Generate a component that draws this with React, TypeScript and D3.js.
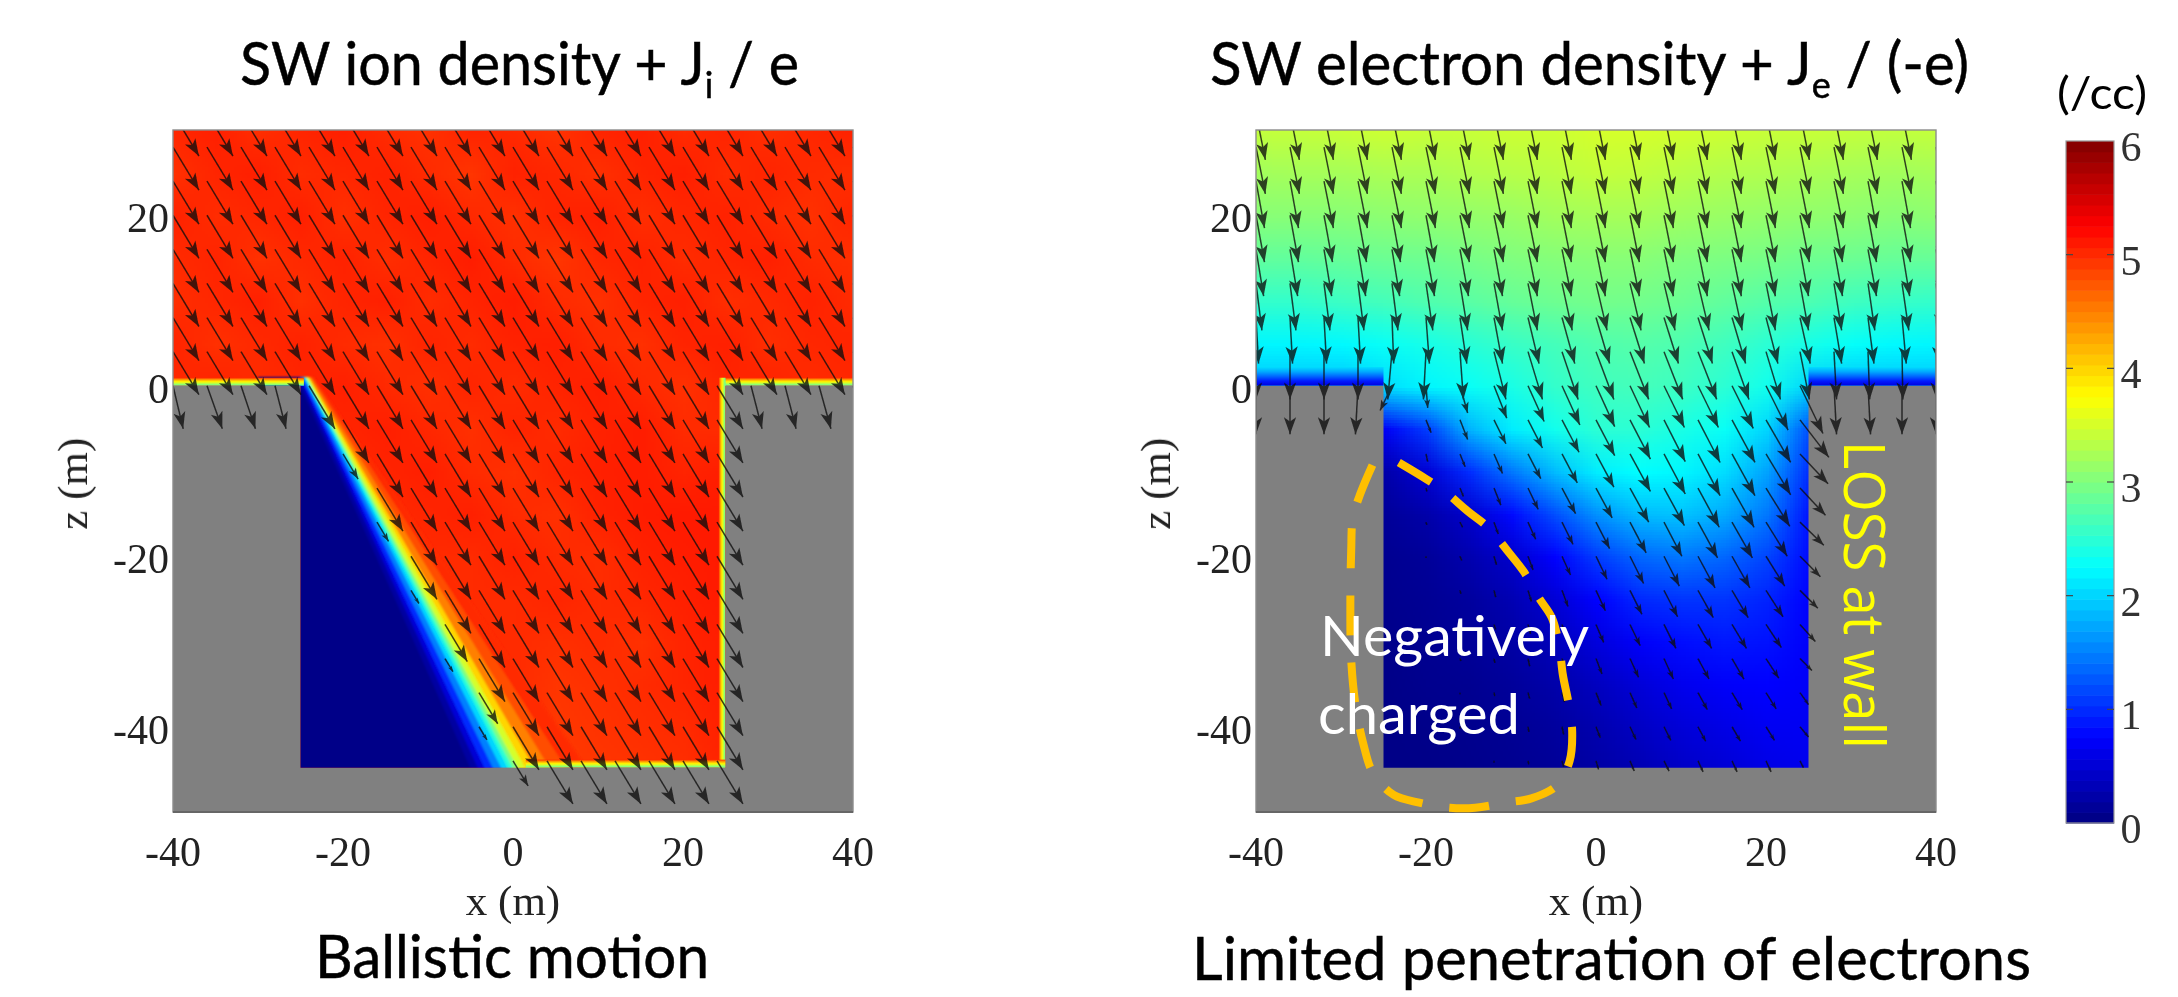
import React, { useMemo } from "react";
import * as d3 from "d3";

const xTicks = [-40, -20, 0, 20, 40];
const zTicks = [20, 0, -20, -40];
const barTicks = [0, 1, 2, 3, 4, 5, 6];

const gridXCount = 17;
const gridZ = [30, 25, 20, 15, 10, 5, 0, -5, -10, -15, -20, -25, -30, -35, -40, -45];

const ionGrid = [
  [5.02, 5.06, 4.98, 5.03, 5.07, 5.0, 4.96, 5.04, 5.01, 4.95, 5.03, 5.06, 5.0, 5.04, 4.98, 5.02, 5.05],
  [4.97, 5.03, 5.07, 4.99, 5.02, 5.05, 5.0, 4.94, 5.05, 5.02, 4.97, 5.03, 5.07, 4.99, 5.04, 5.0, 4.98],
  [5.05, 4.99, 5.02, 5.06, 4.97, 5.03, 5.07, 5.01, 4.96, 5.04, 5.06, 4.98, 5.02, 5.05, 5.0, 4.96, 5.03],
  [5.0, 5.04, 4.96, 5.01, 5.05, 4.98, 5.03, 5.08, 5.0, 4.93, 5.02, 5.05, 4.99, 5.03, 5.06, 5.0, 4.97],
  [4.98, 5.02, 5.06, 4.97, 5.03, 5.06, 4.99, 5.04, 5.08, 5.0, 4.96, 5.03, 5.06, 4.98, 5.01, 5.05, 5.0],
  [5.04, 4.97, 5.01, 5.05, 5.0, 4.96, 5.04, 5.0, 5.05, 5.07, 5.0, 4.97, 5.04, 5.06, 4.98, 5.02, 5.04],
  [5.01, 5.05, 4.99, 5.03, 5.06, 5.01, 4.97, 5.03, 4.99, 5.04, 5.07, 5.01, 4.96, 5.03, 5.05, 4.99, 5.02],
  [5.0, 5.0, 5.0, 5.0, 5.03, 5.07, 5.02, 4.97, 5.04, 5.0, 5.05, 5.08, 5.0, 5.0, 5.0, 5.0, 5.0],
  [5.0, 5.0, 5.0, 5.0, 5.0, 5.04, 5.07, 5.0, 4.96, 5.03, 5.06, 5.08, 5.04, 5.08, 5.0, 5.0, 5.0],
  [5.0, 5.0, 5.0, 5.0, 5.0, 5.0, 5.03, 5.06, 5.0, 4.97, 5.05, 5.08, 5.1, 5.1, 5.0, 5.0, 5.0],
  [5.0, 5.0, 5.0, 5.0, 5.0, 5.0, 5.0, 5.0, 5.05, 5.0, 4.98, 5.05, 5.08, 5.1, 5.0, 5.0, 5.0],
  [5.0, 5.0, 5.0, 5.0, 5.0, 5.0, 5.0, 5.0, 5.0, 5.03, 5.0, 5.02, 5.06, 5.1, 5.0, 5.0, 5.0],
  [5.0, 5.0, 5.0, 5.0, 5.0, 5.0, 5.0, 5.0, 5.0, 4.97, 5.0, 4.96, 5.04, 5.08, 5.0, 5.0, 5.0],
  [5.0, 5.0, 5.0, 5.0, 5.0, 5.0, 5.0, 5.0, 5.0, 4.94, 4.97, 5.0, 5.03, 5.08, 5.0, 5.0, 5.0],
  [5.0, 5.0, 5.0, 5.0, 5.0, 5.0, 5.0, 5.0, 5.0, 4.92, 4.95, 4.98, 5.0, 5.07, 5.0, 5.0, 5.0],
  [5.0, 5.0, 5.0, 5.0, 5.0, 5.0, 5.0, 5.0, 5.0, 4.9, 4.93, 4.95, 4.98, 5.04, 5.0, 5.0, 5.0],
];

const electronGrid = [
  [3.4, 3.4, 3.42, 3.45, 3.42, 3.42, 3.45, 3.45, 3.5, 3.5, 3.48, 3.45, 3.42, 3.42, 3.4, 3.38, 3.4],
  [3.2, 3.22, 3.22, 3.25, 3.25, 3.3, 3.32, 3.35, 3.4, 3.38, 3.33, 3.3, 3.28, 3.25, 3.22, 3.2, 3.22],
  [3.05, 3.05, 3.05, 3.08, 3.1, 3.12, 3.15, 3.2, 3.22, 3.22, 3.18, 3.15, 3.12, 3.1, 3.08, 3.05, 3.08],
  [2.82, 2.82, 2.85, 2.88, 2.9, 2.95, 3, 3.03, 3.05, 3.05, 3, 2.98, 2.95, 2.9, 2.88, 2.85, 2.85],
  [2.55, 2.55, 2.6, 2.65, 2.72, 2.78, 2.85, 2.9, 2.93, 2.92, 2.88, 2.82, 2.75, 2.7, 2.62, 2.58, 2.55],
  [2.2, 2.2, 2.22, 2.3, 2.38, 2.48, 2.58, 2.65, 2.72, 2.75, 2.7, 2.62, 2.5, 2.38, 2.28, 2.22, 2.2],
  [1.9, 1.9, 1.9, 2.05, 2.2, 2.3, 2.4, 2.55, 2.62, 2.65, 2.6, 2.5, 2.35, 2.0, 1.9, 1.9, 1.9],
  [0.7, 0.7, 0.7, 0.7, 1.1, 1.8, 2.15, 2.35, 2.5, 2.5, 2.4, 2.3, 2.0, 1.2, 1.2, 1.2, 1.2],
  [0.25, 0.25, 0.25, 0.25, 0.5, 1.0, 1.45, 1.85, 2.15, 2.25, 2.2, 2.05, 1.7, 1.0, 1.0, 1.0, 1.0],
  [0.15, 0.15, 0.15, 0.15, 0.25, 0.45, 0.8, 1.2, 1.6, 1.85, 1.9, 1.75, 1.45, 0.85, 0.85, 0.85, 0.85],
  [0.1, 0.1, 0.1, 0.1, 0.15, 0.28, 0.45, 0.75, 1.1, 1.35, 1.45, 1.35, 1.15, 0.8, 0.8, 0.8, 0.8],
  [0.08, 0.08, 0.08, 0.08, 0.12, 0.18, 0.3, 0.5, 0.75, 0.98, 1.05, 1.05, 0.95, 0.75, 0.75, 0.75, 0.75],
  [0.06, 0.06, 0.06, 0.06, 0.1, 0.14, 0.22, 0.35, 0.55, 0.72, 0.82, 0.88, 0.85, 0.72, 0.72, 0.72, 0.72],
  [0.05, 0.05, 0.05, 0.05, 0.08, 0.1, 0.16, 0.25, 0.38, 0.52, 0.65, 0.72, 0.75, 0.7, 0.7, 0.7, 0.7],
  [0.04, 0.04, 0.04, 0.04, 0.06, 0.08, 0.12, 0.18, 0.28, 0.4, 0.52, 0.6, 0.68, 0.68, 0.68, 0.68, 0.68],
  [0.04, 0.04, 0.04, 0.04, 0.05, 0.07, 0.1, 0.14, 0.22, 0.3, 0.42, 0.5, 0.6, 0.65, 0.65, 0.65, 0.65],
];

// Ion shadow behind the slanted incidence: density level and where its contour meets the top and bottom of the trench.
const shadowLevels = [5.0, 4.8, 4.5, 4, 3.5, 3, 2.5, 2, 1.5, 1, 0.5, 0.2, 0.05];
const shadowXTop = [-23.4, -23.6, -23.8, -24, -24.1, -24.3, -24.4, -24.5, -24.6, -24.8, -25, -25.2, -25.5];
const shadowXBottom = [9.5, 7, 5, 3.2, 2.1, 1.2, 0.6, 0, -0.8, -1.8, -2.8, -3.6, -4.5];

const wallBandN = [5.0, 4.3, 3.8, 3.3, 2.7];
const electronEdgeN = [2.05, 1.75, 1.35, 0.9, 0.55];

const arrowXs = [-40, -36, -32, -28, -24, -20, -16, -12, -8, -4, 0, 4, 8, 12, 16, 20, 24, 28, 32, 36, 40];
const arrowZs = [32, 28, 24, 20, 16, 12, 8, 4, 0, -4, -8, -12, -16, -20, -24, -28, -32, -36, -40, -44];

const ionDrift = [3.05, 5.05];
const ionSurfaceDx = [1.2, 1.8, 1.7, 1.3, 0, 0, 0, 0, 0, 0, 0, 0, 0, 0, 0, 0, 0, 1.3, 1.3, 1.4, 1.3];

const electronTopDx = [
  [1.1, 1.1, 1.1, 1.1, 1.1, 1.1, 1.1, 1.1, 1.1, 1.1, 1.1, 1.1, 1.1, 1.1, 1.1, 1.1, 1.1, 1.1, 1.1, 1.1, 1.1],
  [1.1, 1.1, 1.1, 1.1, 1.1, 1.1, 1.1, 1.1, 1.1, 1.1, 1.1, 1.1, 1.1, 1.1, 1.1, 1.1, 1.1, 1.1, 1.1, 1.1, 1.1],
  [1.0, 1.0, 1.1, 1.1, 1.1, 1.1, 1.1, 1.1, 1.1, 1.1, 1.1, 1.1, 1.1, 1.1, 1.1, 1.1, 1.1, 1.1, 1.0, 1.0, 1.0],
  [1.0, 1.0, 1.0, 1.0, 1.0, 1.0, 1.1, 1.1, 1.1, 1.1, 1.1, 1.1, 1.1, 1.1, 1.1, 1.1, 1.1, 1.0, 1.0, 1.0, 1.0],
  [0.9, 0.9, 0.9, 0.9, 0.9, 1.0, 1.0, 1.0, 1.1, 1.1, 1.1, 1.1, 1.1, 1.1, 1.1, 1.1, 1.0, 1.0, 1.0, 0.9, 0.9],
  [0.7, 0.7, 0.7, 0.7, 0.7, 0.8, 0.9, 1.0, 1.1, 1.2, 1.3, 1.3, 1.3, 1.3, 1.2, 1.1, 1.0, 0.9, 0.8, 0.8, 0.7],
  [0.3, 0.3, 0.3, 0.3, 0.2, 0.4, 0.8, 1.0, 1.3, 1.5, 1.6, 1.7, 1.7, 1.7, 1.6, 1.4, 1.2, 0.9, 0.7, 0.5, 0.4],
  [0, 0, 0, 0, -0.5, -0.3, 0.4, 1.4, 1.7, 1.9, 2.1, 2.2, 2.2, 2.2, 2.0, 1.7, 1.1, 0.3, 0.2, 0.1, 0.1],
];
const electronTopDy = [5.5, 5.5, 5.5, 5.5, 5.5, 5.5, 5.4, 5.6];
const electronSurfaceDx = [0, 0, 0, -0.3, 0, 0, 0, 0, 0, 0, 0, 0, 0, 0, 0, 0, 0, 0.3, 0.3, 0, 0];
const electronSurfaceDy = 5.7;

// Trench columns -24 ... 24 for rows z = 0 ... -44.
const trenchDx = [
  [-1.4, 0.2, 0.9, 1.5, 1.9, 2.1, 2.2, 2.3, 2.4, 2.4, 2.5, 2.6, 2.7],
  [0, 0.6, 0.9, 1.4, 1.7, 2.0, 2.2, 2.4, 2.5, 2.6, 2.7, 2.9, 3.4],
  [0, 0.2, 0.6, 1.0, 1.5, 1.8, 2.1, 2.4, 2.5, 2.6, 2.7, 2.9, 3.3],
  [0, 0.1, 0.4, 0.8, 1.2, 1.6, 1.9, 2.2, 2.4, 2.5, 2.6, 2.8, 3.0],
  [0, 0.1, 0.3, 0.5, 0.9, 1.3, 1.6, 1.9, 2.1, 2.3, 2.4, 2.5, 2.8],
  [0, 0, 0.2, 0.3, 0.6, 1.0, 1.3, 1.6, 1.8, 2, 2.1, 2.2, 2.4],
  [0, 0, 0.1, 0.2, 0.4, 0.7, 1.1, 1.4, 1.6, 1.8, 1.9, 2.0, 2.1],
  [0, 0, 0.1, 0.2, 0.3, 0.5, 0.9, 1.2, 1.4, 1.6, 1.7, 1.8, 1.8],
  [0, 0, 0.1, 0.1, 0.2, 0.4, 0.7, 1.0, 1.1, 1.3, 1.4, 1.5, 1.4],
  [0, 0, 0, 0.1, 0.2, 0.3, 0.6, 0.8, 0.9, 1.1, 1.2, 1.2, 1.0],
  [0, 0, 0, 0.1, 0.1, 0.2, 0.5, 0.7, 0.8, 0.9, 1.0, 1.0, 1.0],
  [0, 0, 0, 0, 0.1, 0.2, 0.3, 0.5, 0.6, 0.6, 0.6, 0.6, 0.4],
];
const trenchDy = [
  [2.9, 2.6, 3.2, 3.8, 4.2, 4.6, 4.8, 4.9, 4.9, 4.9, 5, 5.2, 5.6],
  [0.1, 1.5, 2.3, 2.8, 3.3, 3.8, 4.2, 4.6, 4.9, 5, 5, 5, 4.4],
  [0.1, 0.9, 1.5, 2.3, 2.9, 3.4, 3.9, 4.4, 4.7, 4.9, 4.9, 4.8, 3.5],
  [0, 0.4, 1, 2, 2.5, 3, 3.5, 4, 4.4, 4.6, 4.6, 4.5, 3.2],
  [0, 0.3, 0.6, 1.4, 2.0, 2.6, 3.1, 3.6, 4, 4.2, 4.2, 4, 2.7],
  [0, 0.2, 0.5, 1, 1.6, 2.2, 2.7, 3.2, 3.5, 3.7, 3.7, 3.5, 2.4],
  [0, 0.1, 0.4, 0.8, 1.3, 1.9, 2.4, 2.8, 3.1, 3.2, 3.2, 3.1, 2.1],
  [0, 0.1, 0.3, 0.6, 1.1, 1.6, 2.1, 2.5, 2.8, 2.8, 2.8, 2.7, 2],
  [0, 0.1, 0.3, 0.5, 0.9, 1.3, 1.8, 2.2, 2.4, 2.4, 2.4, 2.3, 1.4],
  [0, 0.1, 0.2, 0.4, 0.7, 1.1, 1.5, 1.8, 1.9, 2, 2, 1.9, 1.4],
  [0, 0, 0.2, 0.3, 0.6, 0.9, 1.3, 1.5, 1.6, 1.7, 1.7, 1.6, 1.2],
  [0, 0, 0.1, 0.2, 0.4, 0.7, 1, 1.2, 1.2, 1.3, 1.3, 1.3, 0.8],
];

const chargeLoopX = [-26.3, -27.7, -28.6, -28.8, -28.9, -28.8, -28.3, -27.4, -26.2, -23.8, -20.8, -17.2, -14.2, -10.6, -7.6, -4.6, -3.1, -2.8, -3.2, -3.9, -4.3, -5.2, -6.7, -8.5, -10.3, -12.7, -15.1, -17.8, -20.2, -23.2];
const chargeLoopZ = [-9.3, -12.6, -15.5, -19.3, -25.8, -32.1, -37.4, -41.9, -45.5, -48, -48.9, -49.5, -49.5, -48.9, -48.4, -46.9, -44, -40.6, -37.4, -33.9, -30.7, -27.2, -24.9, -21.8, -19.5, -16.6, -14.7, -12.4, -10.8, -9];

const jetStops = [0, 0.75, 2.25, 3.75, 5.25, 6];
const jetColors = ["#000080", "#0000ff", "#00ffff", "#ffff00", "#ff0000", "#800000"];
const jet = d3.scaleLinear<string>().domain(jetStops).range(jetColors).clamp(true);

const W = 2178;
const H = 997;
const plotTop = 130;
const plotBottom = 812;
const zScale = d3.scaleLinear().domain([30, -50]).range([plotTop, plotBottom]);
const xLeft = d3.scaleLinear().domain([-40, 40]).range([173, 853]);
const xRight = d3.scaleLinear().domain([-40, 40]).range([1256, 1936]);
const barScale = d3.scaleLinear().domain([0, 6]).range([823, 141]);
const barBands = d3.range(64);

const SERIF = "'Liberation Serif', serif";
const SANS = "Lato, 'Open Sans', sans-serif";

function gridImage(grid: number[][]) {
  const c = document.createElement("canvas");
  c.width = gridXCount;
  c.height = gridZ.length;
  const ctx = c.getContext("2d")!;
  grid.forEach((row, j) =>
    row.forEach((v, i) => {
      ctx.fillStyle = jet(v);
      ctx.fillRect(i, j, 1, 1);
    })
  );
  return c.toDataURL();
}

function ionDensity(x: number, z: number) {
  if (z >= 0) return 5;
  const t = -z / 45;
  let n = 0.05;
  for (let i = shadowLevels.length - 1; i >= 0; i--) {
    const cx = shadowXTop[i] + (shadowXBottom[i] - shadowXTop[i]) * t;
    if (x >= cx) n = shadowLevels[i] + 0.1;
  }
  return n;
}

type Arrow = { x: number; z: number; dx: number; dy: number };

function ionArrows(): Arrow[] {
  const out: Arrow[] = [];
  arrowZs.forEach((z) =>
    arrowXs.forEach((x, i) => {
      const inTrench = x > -25 && x < 25;
      if (z > 0 || (z === 0 && inTrench)) {
        out.push({ x, z, dx: ionDrift[0], dy: ionDrift[1] });
      } else if (z === 0) {
        out.push({ x, z, dx: ionSurfaceDx[i], dy: ionDrift[1] });
      } else if (inTrench) {
        const f = Math.min(1, ionDensity(x, z) / 3.6);
        if (f > 0.12) out.push({ x, z, dx: ionDrift[0] * f, dy: ionDrift[1] * f });
      }
    })
  );
  return out;
}

function electronArrows(): Arrow[] {
  const out: Arrow[] = [];
  arrowZs.forEach((z, j) =>
    arrowXs.forEach((x, i) => {
      const inTrench = x > -25 && x < 25;
      if (z > 0) out.push({ x, z, dx: electronTopDx[j][i], dy: electronTopDy[j] });
      else if (inTrench) {
        const r = (0 - z) / 4;
        const c = (x + 24) / 4;
        out.push({ x, z, dx: trenchDx[r][c], dy: trenchDy[r][c] });
      } else if (z === 0) out.push({ x, z, dx: electronSurfaceDx[i], dy: electronSurfaceDy });
    })
  );
  return out;
}

function ArrowField({ arrows, xs, ink }: { arrows: Arrow[]; xs: d3.ScaleLinear<number, number>; ink: number }) {
  return (
    <g filter="url(#softArrow)" opacity={ink}>
      {arrows.map((a, k) => {
        const x1 = xs(a.x);
        const y1 = zScale(a.z);
        const x2 = xs(a.x + a.dx);
        const y2 = zScale(a.z - a.dy);
        const L = Math.hypot(x2 - x1, y2 - y1);
        if (L < 1.5) return null;
        const ux = (x2 - x1) / L;
        const uy = (y2 - y1) / L;
        const hl = Math.min(17, L * 0.38);
        const hw = hl * 0.36;
        const bx = x2 - ux * hl;
        const by = y2 - uy * hl;
        const nx = x2 - ux * hl * 0.75;
        const ny = y2 - uy * hl * 0.75;
        const head = `M${x2},${y2}L${bx - uy * hw},${by + ux * hw}L${nx},${ny}L${bx + uy * hw},${by - ux * hw}Z`;
        return (
          <g key={k}>
            <line x1={x1} y1={y1} x2={x2} y2={y2} stroke="#111" strokeWidth={1.5} />
            <path d={head} fill="#111" />
          </g>
        );
      })}
    </g>
  );
}

function Axes({ xs, id }: { xs: d3.ScaleLinear<number, number>; id: string }) {
  const [x0, x1] = xs.range();
  const xMid = xs(0);
  return (
    <g>
      <rect x={x0} y={plotTop} width={x1 - x0} height={plotBottom - plotTop} fill="none" stroke="#8c8c8c" strokeWidth={1.4} />
      <line x1={x0} x2={x1} y1={plotBottom} y2={plotBottom} stroke="#666" strokeWidth={2} />
      <g filter="url(#soft)" fill="#222" fontFamily={SERIF}>
        {xTicks.map((t) => (
          <text key={id + "x" + t} x={xs(t)} y={866} fontSize={42} textAnchor="middle">{t}</text>
        ))}
        {zTicks.map((t) => (
          <text key={id + "z" + t} x={x0 - 4} y={zScale(t) + 17} fontSize={42} textAnchor="end">{t}</text>
        ))}
        <text x={xMid} y={915} fontSize={43} textAnchor="middle">x (m)</text>
        <text transform={`translate(${x0 - 86},${zScale(-11.5)}) rotate(-90)`} fontSize={43} textAnchor="middle">z (m)</text>
      </g>
    </g>
  );
}

function plasmaPath(xs: d3.ScaleLinear<number, number>) {
  const px = [-40, 40, 40, 25, 25, -25, -25, -40];
  const pz = [30, 30, 0, 0, -44.8, -44.8, 0, 0];
  return d3.line()(px.map((x, i) => [xs(x), zScale(pz[i])] as [number, number])) + "Z";
}

function HeatImage({ href, xs }: { href: string; xs: d3.ScaleLinear<number, number> }) {
  const x0 = xs(-42.5);
  const x1 = xs(42.5);
  const y0 = zScale(32.5);
  const y1 = zScale(-47.5);
  return <image href={href} x={x0} y={y0} width={x1 - x0} height={y1 - y0} preserveAspectRatio="none" />;
}

export default function App() {
  const ionHref = useMemo(() => gridImage(ionGrid), []);
  const electronHref = useMemo(() => gridImage(electronGrid), []);
  const ionA = useMemo(ionArrows, []);
  const elecA = useMemo(electronArrows, []);
  const loop = d3.line<number>()
    .x((_, i) => xRight(chargeLoopX[i]))
    .y((_, i) => zScale(chargeLoopZ[i]))
    .curve(d3.curveCatmullRom)(chargeLoopX);
  const bandH = 8;
  const topBand = zScale(0) - bandH;
  return (
    <svg width={W} height={H} viewBox={`0 0 ${W} ${H}`} style={{ position: "absolute", left: 0, top: 0, background: "#fff" }}>
      <defs>
        <filter id="soft" x="-5%" y="-5%" width="110%" height="110%"><feGaussianBlur stdDeviation="0.6" /></filter>
        <filter id="softArrow" x="-5%" y="-5%" width="110%" height="110%"><feGaussianBlur stdDeviation="0.75" /></filter>
        <filter id="shadowBlur" x="-5%" y="-5%" width="110%" height="110%"><feGaussianBlur stdDeviation="1.2" /></filter>
        <clipPath id="clipL"><path d={plasmaPath(xLeft)} /></clipPath>
        <clipPath id="clipR"><path d={plasmaPath(xRight)} /></clipPath>
        <clipPath id="boxL"><rect x={173} y={plotTop} width={680} height={plotBottom - plotTop} /></clipPath>
        <clipPath id="boxR"><rect x={1256} y={plotTop} width={680} height={plotBottom - plotTop} /></clipPath>
        <linearGradient id="bandV" x1="0" x2="0" y1="0" y2="1">
          {wallBandN.map((n, i) => <stop key={i} offset={i / (wallBandN.length - 1)} stopColor={jet(n)} />)}
        </linearGradient>
        <linearGradient id="bandH" x1="0" x2="1" y1="0" y2="0">
          {wallBandN.map((n, i) => <stop key={i} offset={i / (wallBandN.length - 1)} stopColor={jet(n)} />)}
        </linearGradient>
        <linearGradient id="edgeV" x1="0" x2="0" y1="0" y2="1">
          {electronEdgeN.map((n, i) => <stop key={i} offset={i / (electronEdgeN.length - 1)} stopColor={jet(n)} />)}
        </linearGradient>
      </defs>

      {/* Left panel */}
      <rect x={173} y={plotTop} width={680} height={plotBottom - plotTop} fill="#808080" />
      <g clipPath="url(#clipL)">
        <HeatImage href={ionHref} xs={xLeft} />
        <g filter="url(#shadowBlur)">
          {shadowLevels.map((n, i) => {
            const pts: [number, number][] = [
              [xLeft(shadowXTop[i]), zScale(1)],
              [xLeft(shadowXBottom[i]), zScale(-46)],
              [xLeft(-30), zScale(-46)],
              [xLeft(-30), zScale(1)],
            ];
            return <path key={n} d={d3.line()(pts) + "Z"} fill={jet(n)} />;
          })}
        </g>
        <rect x={173} y={topBand} width={xLeft(-24.6) - 173} height={bandH} fill="url(#bandV)" />
        <rect x={xLeft(24.4)} y={topBand} width={853 - xLeft(24.4)} height={bandH} fill="url(#bandV)" />
        <rect x={xLeft(24.2)} y={topBand} width={xLeft(25) - xLeft(24.2)} height={zScale(-44.8) - topBand} fill="url(#bandH)" />
        <rect x={xLeft(1.5)} y={zScale(-44.8) - bandH} width={xLeft(25) - xLeft(1.5)} height={bandH} fill="url(#bandV)" />
      </g>
      <g clipPath="url(#boxL)"><ArrowField arrows={ionA} xs={xLeft} ink={0.78} /></g>
      <Axes xs={xLeft} id="L" />

      {/* Right panel */}
      <rect x={1256} y={plotTop} width={680} height={plotBottom - plotTop} fill="#808080" />
      <g clipPath="url(#clipR)">
        <HeatImage href={electronHref} xs={xRight} />
        <rect x={1256} y={zScale(2.2)} width={xRight(-25) - 1256} height={zScale(0) - zScale(2.2)} fill="url(#edgeV)" />
        <rect x={xRight(25)} y={zScale(2.2)} width={1936 - xRight(25)} height={zScale(0) - zScale(2.2)} fill="url(#edgeV)" />
      </g>
      <g clipPath="url(#boxR)"><ArrowField arrows={elecA} xs={xRight} ink={0.78} /></g>
      <Axes xs={xRight} id="R" />

      <path d={loop ?? ""} fill="none" stroke="#ffc000" strokeWidth={8} strokeDasharray="40 27" />

      {/* Colour bar */}
      {barBands.map((k) => {
        const a = (k / 64) * 6;
        const b = ((k + 1) / 64) * 6;
        return <rect key={k} x={2066} y={barScale(b)} width={48} height={barScale(a) - barScale(b) + 0.6} fill={jet((a + b) / 2)} />;
      })}
      <rect x={2066} y={141} width={48} height={682} fill="none" stroke="#999" strokeWidth={1.2} />
      <g filter="url(#soft)">
        {barTicks.map((t) => (
          <g key={t}>
            {t > 0 && t < 6 && (
              <>
                <line x1={2066} x2={2073} y1={barScale(t)} y2={barScale(t)} stroke="#444" strokeWidth={1.2} />
                <line x1={2107} x2={2114} y1={barScale(t)} y2={barScale(t)} stroke="#444" strokeWidth={1.2} />
              </>
            )}
            <text x={2131} y={barScale(t) + 20} fontSize={42} textAnchor="middle" fontFamily={SERIF} fill="#333">{t}</text>
          </g>
        ))}
      </g>

      {/* Slide annotations */}
      <g fontFamily={SANS} fill="#000" stroke="#000" strokeWidth={0.5}>
        <text x={240} y={85} fontSize={60} textLength={559} lengthAdjust="spacingAndGlyphs">
          SW ion density + J<tspan fontSize={37} dy={13}>i</tspan><tspan dy={-13}> / e</tspan>
        </text>
        <text x={1210} y={85} fontSize={60} textLength={759} lengthAdjust="spacingAndGlyphs">
          SW electron density + J<tspan fontSize={37} dy={13}>e</tspan><tspan dy={-13}> / (-e)</tspan>
        </text>
        <text x={315} y={978} fontSize={60} textLength={394} lengthAdjust="spacingAndGlyphs">Ballistic motion</text>
        <text x={1192} y={980} fontSize={60} textLength={839} lengthAdjust="spacingAndGlyphs">Limited penetration of electrons</text>
        <text x={2057} y={109} fontSize={44} textLength={90} lengthAdjust="spacingAndGlyphs" strokeWidth={0}>(/cc)</text>
      </g>
      <g fontFamily={SANS}>
        <text x={1320} y={656} fontSize={56} fill="#fff" textLength={269} lengthAdjust="spacingAndGlyphs">Negatively</text>
        <text x={1318} y={734} fontSize={56} fill="#fff" textLength={202} lengthAdjust="spacingAndGlyphs">charged</text>
        <text transform="translate(1844,441) rotate(90)" fontSize={57} fill="#ffff00" textLength={308} lengthAdjust="spacingAndGlyphs" style={{ fontFamily: "'Open Sans', Lato, sans-serif" }}>LOSS at wall</text>
      </g>
    </svg>
  );
}
